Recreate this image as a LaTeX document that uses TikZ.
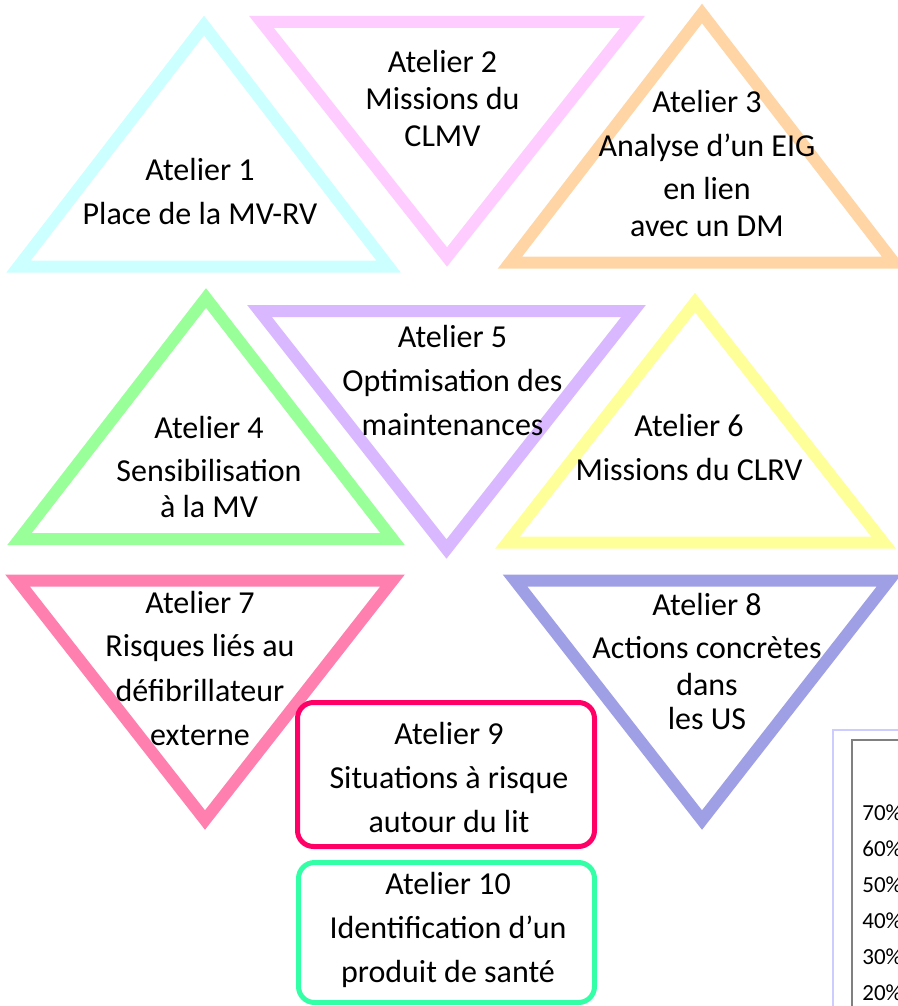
\documentclass[tikz,border=0pt]{standalone}
\usepackage{fontspec}
\setmainfont{Carlito}
\definecolor{cyanlt}{HTML}{CCFFFF}
\definecolor{pinklt}{HTML}{FFCCFF}
\definecolor{peach}{HTML}{FFD5A6}
\definecolor{greenlt}{HTML}{99FF99}
\definecolor{lilac}{HTML}{D9B8FF}
\definecolor{yellowlt}{HTML}{FFFF99}
\definecolor{rose}{HTML}{FF7FAF}
\definecolor{periwinkle}{HTML}{9F9FE6}
\definecolor{magenta}{HTML}{FF0066}
\definecolor{mint}{HTML}{33FFA6}
\definecolor{chartframe}{HTML}{CCCCFF}
\begin{document}
\begin{tikzpicture}[x=0.5pt,y=-0.5pt,
    tri/.style={line width=6pt},
    box/.style={line width=2.5pt,rounded corners=8pt,fill=white},
    lbl/.style={align=center,inner sep=0pt,font=\fontsize{16}{22}\selectfont},
    pct/.style={anchor=west,inner sep=0pt,font=\fontsize{11.5}{14}\selectfont}]
  \useasboundingbox (0,0) rectangle (898,1006);
  \clip (0,0) rectangle (898,1006);
  \draw[tri,cyanlt] (18.5,266.5) -- (204,25.5) -- (388.5,266.5) -- cycle;
  \draw[tri,pinklt] (261.5,22) -- (632.5,22) -- (447,257) -- cycle;
  \draw[tri,peach] (510,262.5) -- (702,13.5) -- (894,262.5) -- cycle;
  \draw[tri,greenlt] (19.5,539) -- (206,298) -- (392.5,539) -- cycle;
  \draw[tri,lilac] (259.5,311) -- (633.5,311) -- (446.5,549) -- cycle;
  \draw[tri,yellowlt] (507.5,542.5) -- (695,302.5) -- (883.5,542.5) -- cycle;
  \draw[tri,rose] (17.5,580.5) -- (392.5,580.5) -- (205,820) -- cycle;
  \draw[tri,periwinkle] (515,580.5) -- (889,580.5) -- (702,820) -- cycle;
  \draw[line width=0.8pt,chartframe] (833,730) rectangle (920,1020);
  \draw[line width=0.8pt,gray] (852,740) rectangle (920,1020);
  \draw[box,draw=magenta] (297.5,702.5) rectangle (594.5,846.5);
  \draw[box,draw=mint] (298.5,862.5) rectangle (594.5,1002.5);
  \node[lbl] (a1) at (200,191.5) {Atelier 1\\Place de la MV-RV};
  \node[lbl] (a2) at (442.5,98.5) {Atelier 2\\[-3.5pt]Missions du\\[-3.5pt]CLMV};
  \node[lbl] (a3) at (707,163.5) {Atelier 3\\Analyse d’un EIG\\[-0.5pt]en lien\\[-3.5pt]avec un DM};
  \node[lbl] (a4) at (209,467.5) {Atelier 4\\[-0.5pt]Sensibilisation\\[-4pt]à la MV};
  \node[lbl] (a5) at (452.5,381) {Atelier 5\\Optimisation des\\maintenances};
  \node[lbl] (a6) at (689,448) {Atelier 6\\Missions du CLRV};
  \node[lbl] (a7) at (200,668) {Atelier 7\\Risques liés au\\défibrillateur\\externe};
  \node[lbl] (a8) at (707,661) {Atelier 8\\[-0.5pt]Actions concrètes\\[-3.5pt]dans\\[-5pt]les US};
  \node[lbl] (a9) at (449,777.5) {Atelier 9\\Situations à risque\\autour du lit};
  \node[lbl] (a10) at (448,929.5) {Atelier 10\\Identification d’un\\produit de santé};
  \foreach \v [count=\i from 0] in {70,60,50,40,30,20}
    \node[pct] (p\v) at (862,813+36*\i) {\v\%};
\end{tikzpicture}
\end{document}
